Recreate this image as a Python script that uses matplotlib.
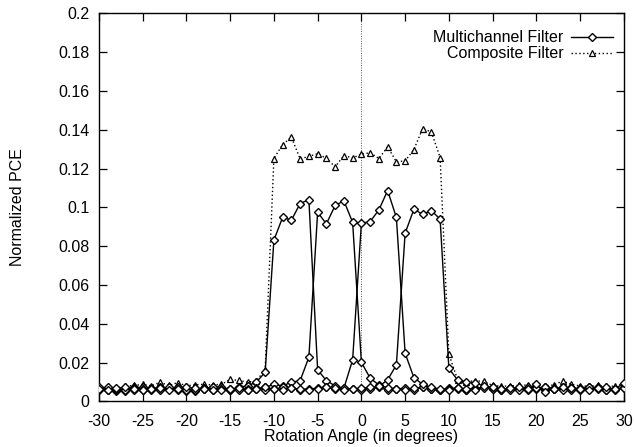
import matplotlib
matplotlib.use("Agg")
import matplotlib.pyplot as plt
import numpy as np

plt.rcParams['font.family'] = ['Liberation Sans', 'DejaVu Sans']

angles = list(range(-30, 31))

channel_a = [0.0068, 0.0058, 0.0056, 0.0064, 0.0072, 0.0060, 0.0068, 0.0058, 0.0064, 0.0072,
             0.0060, 0.0056, 0.0064, 0.0072, 0.0068, 0.0060, 0.0074,
             0.0080, 0.0100, 0.0150, 0.0831, 0.0949, 0.0934, 0.1020, 0.1040, 0.0163, 0.0107,
             0.0080, 0.0068, 0.0062,
             0.0060, 0.0064, 0.0072, 0.0058, 0.0064, 0.0068, 0.0060, 0.0072, 0.0064, 0.0058,
             0.0068, 0.0064, 0.0060, 0.0068, 0.0072, 0.0064, 0.0058, 0.0068, 0.0064, 0.0074,
             0.0068, 0.0060, 0.0064, 0.0072, 0.0068, 0.0060, 0.0064, 0.0072, 0.0064, 0.0060,
             0.0068]

channel_b = [0.0074, 0.0064, 0.0060, 0.0056, 0.0060, 0.0072, 0.0064, 0.0074, 0.0068, 0.0060,
             0.0056, 0.0064, 0.0068, 0.0060, 0.0072, 0.0064, 0.0068, 0.0060, 0.0064, 0.0072,
             0.0088, 0.0080, 0.0099, 0.0107, 0.0228, 0.0975, 0.0915, 0.1010, 0.1034, 0.0923,
             0.0202, 0.0120, 0.0085, 0.0070,
             0.0064, 0.0060, 0.0068, 0.0072, 0.0064, 0.0058, 0.0064, 0.0068, 0.0060, 0.0064,
             0.0072, 0.0064, 0.0060, 0.0068, 0.0064, 0.0058, 0.0064, 0.0072, 0.0068, 0.0064,
             0.0060, 0.0068, 0.0072, 0.0064, 0.0060, 0.0064, 0.0072]

channel_c = [0.0060, 0.0072, 0.0064, 0.0058, 0.0068, 0.0064, 0.0060, 0.0068, 0.0072, 0.0064,
             0.0058, 0.0060, 0.0068, 0.0072, 0.0064, 0.0060, 0.0058, 0.0064, 0.0068, 0.0060,
             0.0064, 0.0072, 0.0068, 0.0060, 0.0064, 0.0068, 0.0072, 0.0064,
             0.0068, 0.0214, 0.0918, 0.0927, 0.0987, 0.1087, 0.0948, 0.0248, 0.0123, 0.0088,
             0.0072, 0.0064, 0.0060, 0.0068, 0.0064, 0.0060, 0.0068, 0.0072, 0.0064, 0.0060,
             0.0058, 0.0064, 0.0068, 0.0072, 0.0064, 0.0060, 0.0068, 0.0064, 0.0072, 0.0068,
             0.0060, 0.0064, 0.0068]

channel_d = [0.0064, 0.0060, 0.0068, 0.0072, 0.0064, 0.0058, 0.0064, 0.0068, 0.0060, 0.0064,
             0.0072, 0.0068, 0.0064, 0.0060, 0.0058, 0.0064, 0.0068, 0.0060, 0.0064, 0.0072,
             0.0064, 0.0060, 0.0068, 0.0064, 0.0060, 0.0064, 0.0072, 0.0068, 0.0060, 0.0064,
             0.0068, 0.0072, 0.0077,
             0.0111, 0.0188, 0.0867, 0.0990, 0.0965, 0.0984, 0.0939, 0.0170, 0.0110, 0.0098,
             0.0095, 0.0080,
             0.0072, 0.0064, 0.0068, 0.0074, 0.0064, 0.0090, 0.0048, 0.0064, 0.0072, 0.0068,
             0.0064, 0.0060, 0.0068, 0.0072, 0.0064, 0.0095]

composite = [0.0068, 0.0072, 0.0070, 0.0078, 0.0082, 0.0088, 0.0080, 0.0099, 0.0082, 0.0097,
             0.0080, 0.0086, 0.0088, 0.0085, 0.0088, 0.0113, 0.0108, 0.0099, 0.0107, 0.0162,
             0.1252, 0.1324, 0.1362, 0.1250, 0.1263, 0.1277, 0.1253, 0.1209, 0.1267, 0.1255,
             0.1274, 0.1282, 0.1252, 0.1312, 0.1235, 0.1240, 0.1298, 0.1406, 0.1389, 0.1257,
             0.0243, 0.0112, 0.0101, 0.0107, 0.0103, 0.0082, 0.0078, 0.0080, 0.0082, 0.0085,
             0.0090, 0.0080, 0.0085, 0.0105, 0.0088, 0.0080, 0.0078, 0.0082, 0.0080, 0.0078,
             0.0095]

x_ticks = list(range(-30, 31, 5))
y_ticks = [0, 0.02, 0.04, 0.06, 0.08, 0.1, 0.12, 0.14, 0.16, 0.18, 0.2]
y_tick_labels = ["0", "0.02", "0.04", "0.06", "0.08", "0.1", "0.12", "0.14", "0.16", "0.18", "0.2"]

fig = plt.figure(figsize=(6.34, 4.47), dpi=100)
ax = fig.add_axes([0.156, 0.102, 0.828, 0.868])

ax.axvline(0, color='#555555', linestyle=(0, (1, 1.5)), linewidth=0.7, zorder=1)

multi_style = dict(color='black', linewidth=1.0, marker='D', markersize=3.8,
                   markerfacecolor='white', markeredgecolor='black', markeredgewidth=1.0)
for i, ch in enumerate([channel_a, channel_b, channel_c, channel_d]):
    ax.plot(angles, ch, label='Multichannel Filter' if i == 0 else None, zorder=3, **multi_style)

ax.plot(angles, composite, color='black', linewidth=1.0, linestyle=(0, (1, 1.8)),
        marker='^', markersize=5, markerfacecolor='white', markeredgecolor='black',
        markeredgewidth=0.9, label='Composite Filter', zorder=2)

ax.set_xlim(-30, 30)
ax.set_ylim(0, 0.2)
ax.set_xticks(x_ticks)
ax.set_xticklabels([str(t) for t in x_ticks])
ax.set_yticks(y_ticks)
ax.set_yticklabels(y_tick_labels)
ax.tick_params(direction='in', top=True, right=True, length=6, width=0.9, labelsize=11.5)
ax.tick_params(axis='x', pad=9)
ax.tick_params(axis='y', pad=7)
for s in ax.spines.values():
    s.set_linewidth(1.0)

ax.set_xlabel('Rotation Angle (in degrees)', fontsize=11.5, labelpad=0)
ax.set_ylabel('Normalized PCE', fontsize=11.5, labelpad=24)

leg = ax.legend(loc='upper right', frameon=False, markerfirst=False, fontsize=11.5,
                handlelength=2.6, handletextpad=0.5, labelspacing=0.05,
                borderaxespad=0.3, bbox_to_anchor=(1.0, 0.985))

fig.savefig('out.png', dpi=100)
